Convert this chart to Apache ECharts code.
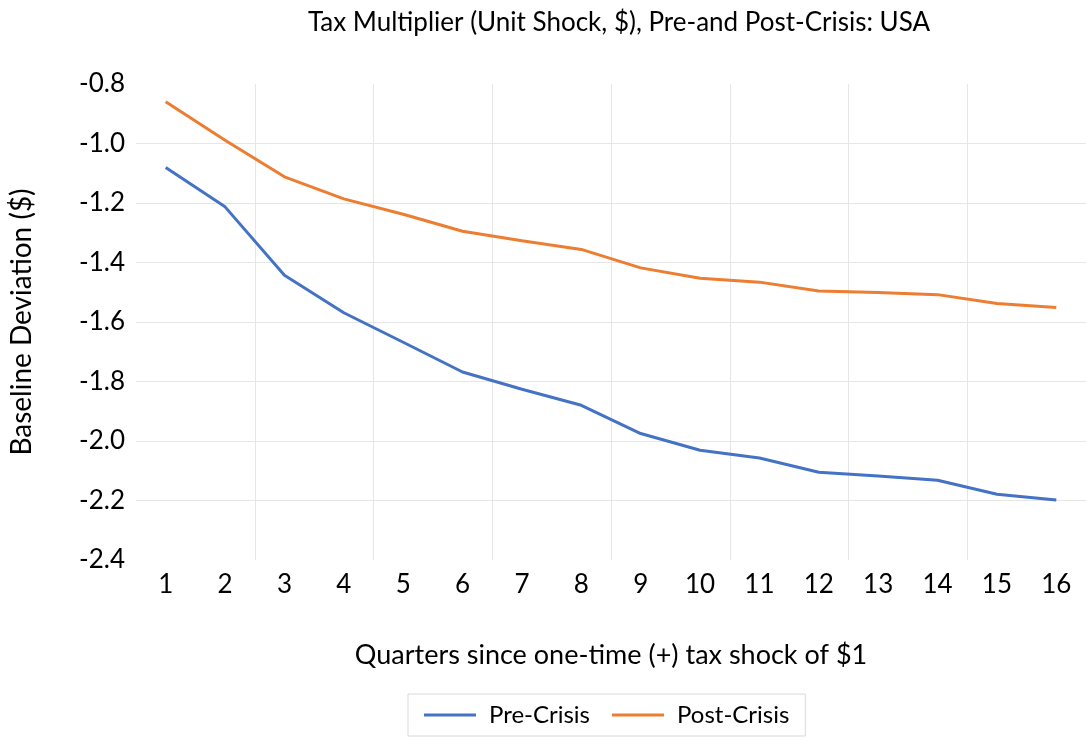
<!DOCTYPE html>
<html>
<head>
<meta charset="utf-8">
<script src="https://cdn.jsdelivr.net/npm/echarts@6/dist/echarts.min.js"></script>
<style>
  html, body { margin: 0; padding: 0; background: #fff; }
  #chart { width: 1086px; height: 740px; }
</style>
</head>
<body>
<div id="chart"></div>
<script>
// quarters after the shock
const quarters = ['1', '2', '3', '4', '5', '6', '7', '8', '9', '10', '11', '12', '13', '14', '15', '16'];

// baseline deviation ($)
const preCrisis = [-1.081, -1.213, -1.443, -1.569, -1.668, -1.768, -1.826, -1.880, -1.975, -2.031, -2.057, -2.105, -2.118, -2.132, -2.179, -2.198];
const postCrisis = [-0.860, -0.989, -1.112, -1.186, -1.238, -1.295, -1.327, -1.356, -1.418, -1.453, -1.466, -1.496, -1.501, -1.508, -1.538, -1.551];

const FONT = 'Lato';

var myChart = echarts.init(document.getElementById('chart'));

var option = {
    animation: false,
    textStyle: { fontFamily: FONT, color: '#000' },
    title: {
        text: 'Tax Multiplier (Unit Shock, $), Pre-and Post-Crisis: USA',
        left: 614,
        textAlign: 'center',
        top: 5,
        textStyle: { fontFamily: FONT, fontSize: 26, fontWeight: 'normal', color: '#000' }
    },
    legend: {
        data: ['Pre-Crisis', 'Post-Crisis'],
        left: 408,
        top: 694,
        padding: [9, 16],
        icon: 'rect',
        itemWidth: 52,
        itemHeight: 3,
        itemGap: 22,
        borderColor: '#d9d9d9',
        borderWidth: 1,
        textStyle: { fontFamily: FONT, fontSize: 24, color: '#000', padding: [0, 0, 0, 8] }
    },
    grid: {
        left: 136,
        right: 0,
        top: 84,
        bottom: 180
    },
    xAxis: {
        type: 'category',
        data: quarters,
        boundaryGap: true,
        name: 'Quarters since one-time (+) tax shock of $1',
        nameLocation: 'middle',
        nameGap: 82,
        nameTextStyle: { fontFamily: FONT, fontSize: 27, color: '#000' },
        axisLine: { show: false },
        axisTick: { show: false },
        axisLabel: { fontFamily: FONT, fontSize: 26, color: '#000', margin: 12 },
        splitLine: {
            show: true,
            interval: function (index) { return index > 0 && index % 2 === 0; },
            lineStyle: { color: '#e6e6e6', width: 1 }
        }
    },
    yAxis: {
        type: 'value',
        min: -2.4,
        max: -0.8,
        interval: 0.2,
        name: 'Baseline Deviation ($)',
        nameLocation: 'middle',
        nameGap: 100,
        nameTextStyle: { fontFamily: FONT, fontSize: 28, color: '#000' },
        axisLine: { show: false },
        axisTick: { show: false },
        axisLabel: {
            fontFamily: FONT, fontSize: 26, color: '#000', margin: 11,
            formatter: function (v) { return v.toFixed(1); }
        },
        splitLine: {
            show: true,
            showMinLine: false,
            showMaxLine: false,
            lineStyle: { color: '#e6e6e6', width: 1 }
        }
    },
    series: [
        {
            name: 'Pre-Crisis',
            type: 'line',
            data: preCrisis,
            symbol: 'none',
            color: '#4472C4',
            lineStyle: { width: 3, color: '#4472C4' }
        },
        {
            name: 'Post-Crisis',
            type: 'line',
            data: postCrisis,
            symbol: 'none',
            color: '#ED7D31',
            lineStyle: { width: 3, color: '#ED7D31' }
        }
    ]
};
myChart.setOption(option);
</script>
</body>
</html>
